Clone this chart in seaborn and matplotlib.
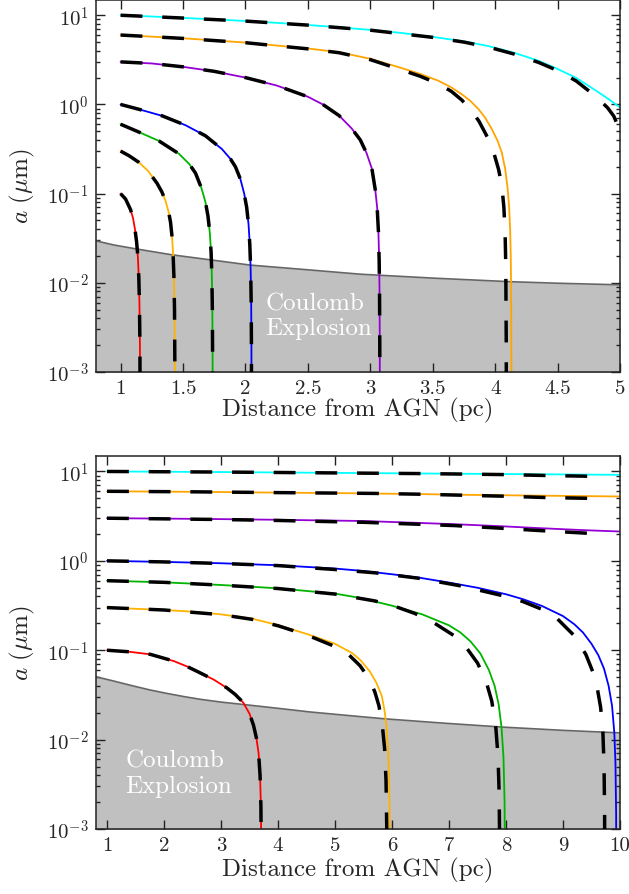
import matplotlib
matplotlib.use("Agg")
import matplotlib.pyplot as plt
import seaborn as sns
from matplotlib.ticker import FixedLocator, FixedFormatter, LogLocator, NullFormatter

# ---------------- data ----------------
# Top panel: solid coloured curves (grain size a in micron vs distance in pc)
top_red_x = [1.0, 1.04, 1.08, 1.1, 1.115, 1.128, 1.138, 1.146, 1.151, 1.155, 1.157]
top_red_a = [0.1, 0.087, 0.066, 0.053, 0.04, 0.029, 0.02, 0.0115, 0.006, 0.002, 0.0001]
top_or1_x = [1.0, 1.07, 1.147, 1.22, 1.293, 1.33, 1.36, 1.385, 1.40, 1.412, 1.42, 1.427, 1.432, 1.435, 1.436]
top_or1_a = [0.3, 0.265, 0.224, 0.18, 0.13, 0.105, 0.083, 0.062, 0.048, 0.033, 0.022, 0.012, 0.005, 0.001, 0.0001]
top_grn_x = [1.0, 1.147, 1.307, 1.467, 1.55, 1.6, 1.648, 1.68, 1.70, 1.715, 1.725, 1.731, 1.735, 1.737, 1.738]
top_grn_a = [0.6, 0.49, 0.39, 0.28, 0.215, 0.17, 0.115, 0.08, 0.056, 0.036, 0.022, 0.012, 0.005, 0.0015, 0.0001]
top_blu_x = [1.0, 1.15, 1.333, 1.52, 1.68, 1.813, 1.88, 1.92, 1.96, 1.99, 2.01, 2.025, 2.035, 2.042, 2.046, 2.048, 2.049]
top_blu_a = [1.0, 0.88, 0.745, 0.585, 0.445, 0.315, 0.245, 0.2, 0.145, 0.1, 0.07, 0.045, 0.027, 0.014, 0.006, 0.002, 0.0001]
top_pur_x = [1.0, 1.25, 1.5, 1.75, 2.0, 2.25, 2.5, 2.62, 2.75, 2.85, 2.92, 2.97, 3.013, 3.04, 3.055, 3.065, 3.071, 3.074, 3.076, 3.077]
top_pur_a = [3.0, 2.88, 2.64, 2.35, 2.0, 1.63, 1.22, 1.0, 0.75, 0.54, 0.40, 0.285, 0.19, 0.11, 0.07, 0.038, 0.018, 0.008, 0.002, 0.0001]
top_or6_x = [1.0, 1.5, 2.0, 2.5, 2.75, 3.0, 3.227, 3.4, 3.547, 3.65, 3.733, 3.8, 3.867, 3.92, 3.973, 4.02, 4.053,
             4.08, 4.1, 4.112, 4.12, 4.125, 4.128, 4.13, 4.131]
top_or6_a = [6.0, 5.52, 4.94, 4.24, 3.85, 3.25, 2.62, 2.2, 1.84, 1.55, 1.30, 1.1, 0.885, 0.71, 0.53, 0.39, 0.29,
             0.19, 0.115, 0.07, 0.04, 0.02, 0.008, 0.001, 0.0001]
top_cyn_x = [1.0, 1.25, 1.5, 1.75, 2.0, 2.25, 2.5, 2.75, 3.0, 3.25, 3.5, 3.75, 3.95, 4.15, 4.35, 4.5, 4.65, 4.8, 4.9, 5.0]
top_cyn_a = [10.0, 9.68, 9.33, 8.98, 8.63, 8.22, 7.78, 7.32, 6.85, 6.33, 5.72, 5.1, 4.5, 3.8, 3.08, 2.5, 1.98, 1.45, 1.17, 0.925]
# Top panel: dashed black curves (differ from solid only for the two largest grains)
top_or6d_x = [1.0, 1.5, 2.0, 2.5, 2.75, 3.0, 3.227, 3.4, 3.547, 3.65, 3.733, 3.813, 3.87, 3.92, 3.973, 4.027, 4.053,
              4.07, 4.08, 4.085, 4.089, 4.09]
top_or6d_a = [6.0, 5.5, 4.92, 4.2, 3.8, 3.18, 2.5, 2.07, 1.7, 1.4, 1.12, 0.84, 0.65, 0.48, 0.344, 0.188, 0.125,
              0.07, 0.035, 0.016, 0.002, 0.0001]
top_cynd_x = [1.0, 1.5, 2.0, 2.5, 3.0, 3.5, 3.75, 3.95, 4.15, 4.35, 4.5, 4.65, 4.8, 4.9, 4.95, 5.0]
top_cynd_a = [10.0, 9.3, 8.6, 7.75, 6.8, 5.65, 5.0, 4.38, 3.68, 2.95, 2.4, 1.83, 1.25, 0.92, 0.74, 0.506]
# Top panel: Coulomb explosion boundary
top_ce_x = [0.8, 0.95, 1.133, 1.413, 1.733, 2.04, 2.5, 2.92, 3.5, 4.12, 4.5, 5.0]
top_ce_a = [0.0296, 0.0265, 0.0239, 0.0206, 0.018, 0.0158, 0.014, 0.0125, 0.0113, 0.0103, 0.0099, 0.0095]

# Bottom panel: solid coloured curves
bot_red_x = [1.0, 1.4, 1.76, 2.17, 2.4, 2.63, 2.87, 3.10, 3.25, 3.39, 3.5, 3.57, 3.62, 3.66, 3.685, 3.70, 3.707, 3.709]
bot_red_a = [0.1, 0.096, 0.09, 0.0757, 0.066, 0.056, 0.047, 0.038, 0.032, 0.026, 0.0195, 0.0145, 0.0105, 0.007,
             0.004, 0.0018, 0.0005, 0.0001]
bot_or1_x = [1.0, 2.0, 2.5, 3.0, 3.54, 4.0, 4.52, 5.0, 5.3, 5.45, 5.61, 5.72, 5.82, 5.87, 5.9, 5.93, 5.95, 5.962, 5.965]
bot_or1_a = [0.3, 0.282, 0.27, 0.252, 0.226, 0.191, 0.151, 0.118, 0.093, 0.077, 0.058, 0.044, 0.031, 0.021,
             0.0145, 0.0078, 0.0035, 0.001, 0.0001]
bot_grn_x = [1.0, 2.0, 3.0, 4.0, 5.0, 5.44, 6.0, 6.53, 7.0, 7.2, 7.38, 7.55, 7.7, 7.8, 7.87, 7.92, 7.955, 7.975, 7.985]
bot_grn_a = [0.6, 0.575, 0.537, 0.493, 0.43, 0.385, 0.315, 0.252, 0.19, 0.158, 0.125, 0.092, 0.06, 0.04, 0.025,
             0.014, 0.0065, 0.002, 0.0001]
bot_blu_x = [1.0, 2.0, 3.0, 4.0, 5.0, 5.5, 6.0, 6.5, 7.0, 7.5, 8.0, 8.3, 8.63, 9.0, 9.2, 9.35, 9.5, 9.62, 9.72,
             9.8, 9.86, 9.9, 9.92, 9.932, 9.936]
bot_blu_a = [1.0, 0.973, 0.94, 0.893, 0.82, 0.77, 0.708, 0.645, 0.571, 0.5, 0.423, 0.372, 0.313, 0.241, 0.195,
             0.158, 0.118, 0.088, 0.062, 0.04, 0.024, 0.012, 0.0055, 0.0015, 0.0001]
bot_pur_x = [1.0, 2.0, 3.0, 4.0, 5.0, 5.5, 6.3, 7.1, 7.85, 8.6, 9.4, 10.0]
bot_pur_a = [3.0, 2.97, 2.93, 2.88, 2.82, 2.79, 2.68, 2.57, 2.45, 2.32, 2.2, 2.13]
bot_or6_x = [1.0, 2.5, 4.0, 5.35, 6.5, 7.37, 8.5, 10.0]
bot_or6_a = [6.0, 5.92, 5.8, 5.7, 5.58, 5.47, 5.37, 5.25]
bot_cyn_x = [1.0, 3.0, 5.4, 7.5, 10.0]
bot_cyn_a = [10.0, 9.85, 9.6, 9.4, 9.17]
# Bottom panel: dashed black curves
bot_redd_x = bot_red_x
bot_redd_a = bot_red_a
bot_or1d_x = [1.0, 2.0, 3.0, 3.54, 4.0, 4.52, 5.0, 5.25, 5.44, 5.6, 5.7, 5.77, 5.83, 5.87, 5.895, 5.908, 5.91]
bot_or1d_a = [0.3, 0.282, 0.25, 0.222, 0.188, 0.147, 0.11, 0.088, 0.067, 0.048, 0.034, 0.024, 0.0145, 0.008,
              0.0035, 0.001, 0.0001]
bot_grnd_x = [1.0, 2.0, 3.0, 4.0, 5.0, 5.7, 6.05, 6.4, 6.75, 7.1, 7.3, 7.5, 7.65, 7.75, 7.82, 7.86, 7.88, 7.89, 7.892]
bot_grnd_a = [0.6, 0.575, 0.535, 0.49, 0.425, 0.356, 0.31, 0.258, 0.2, 0.144, 0.108, 0.072, 0.045, 0.027, 0.014,
              0.0065, 0.0025, 0.0005, 0.0001]
bot_blud_x = [1.0, 2.0, 3.0, 4.0, 5.0, 5.7, 6.46, 7.21, 7.96, 8.3, 8.63, 8.9, 9.2, 9.4, 9.52, 9.6, 9.66, 9.7,
              9.72, 9.73, 9.733]
bot_blud_a = [1.0, 0.973, 0.935, 0.885, 0.8, 0.735, 0.64, 0.524, 0.405, 0.35, 0.287, 0.225, 0.145, 0.09, 0.058,
              0.038, 0.023, 0.012, 0.005, 0.0015, 0.0001]
bot_purd_x = [1.0, 2.0, 3.0, 4.0, 5.0, 5.5, 6.3, 7.1, 7.85, 8.6, 9.71]
bot_purd_a = [3.0, 2.95, 2.9, 2.83, 2.74, 2.7, 2.59, 2.48, 2.33, 2.18, 1.99]
bot_or6d_x = [1.0, 2.5, 4.0, 5.0, 5.7, 6.45, 7.2, 7.95, 8.7, 9.71]
bot_or6d_a = [6.0, 5.92, 5.8, 5.73, 5.68, 5.57, 5.43, 5.29, 5.11, 4.97]
bot_cynd_x = [1.0, 3.0, 5.0, 5.73, 6.49, 7.23, 8.0, 8.74, 9.71]
bot_cynd_a = [10.0, 9.85, 9.63, 9.55, 9.47, 9.35, 9.22, 9.0, 8.78]
# Bottom panel: Coulomb explosion boundary
bot_ce_x = [0.8, 1.1, 1.47, 1.75, 2.05, 2.35, 2.63, 3.0, 3.45, 4.0, 4.56, 5.2, 5.87, 6.9, 7.95, 9.0, 10.0]
bot_ce_a = [0.0506, 0.0455, 0.0397, 0.036, 0.0329, 0.0303, 0.0283, 0.0263, 0.0245, 0.0224, 0.0204, 0.0187,
            0.0171, 0.0153, 0.0138, 0.0127, 0.0119]

top_xticks = [1, 1.5, 2, 2.5, 3, 3.5, 4, 4.5, 5]
top_xticklabels = ["1", "1.5", "2", "2.5", "3", "3.5", "4", "4.5", "5"]
bot_xticks = [1, 2, 3, 4, 5, 6, 7, 8, 9, 10]
bot_xticklabels = ["1", "2", "3", "4", "5", "6", "7", "8", "9", "10"]
yticks = [1e-3, 1e-2, 1e-1, 1e0, 1e1]
yticklabels = [r"$10^{-3}$", r"$10^{-2}$", r"$10^{-1}$", r"$10^{0}$", r"$10^{1}$"]

xlabel_text = "Distance from AGN (pc)"
ylabel_text = r"$a\ (\mu\mathrm{m})$"

colors = {"red": "#ff0000", "or1": "#ffb300", "grn": "#00b400", "blu": "#0000ff",
          "pur": "#9400d3", "or6": "#ffa500", "cyn": "#00ffff"}

# ---------------- style ----------------
sns.set_style("ticks")
plt.rcParams["font.family"] = "serif"
plt.rcParams["font.serif"] = ["cmr10"]
plt.rcParams["mathtext.fontset"] = "cm"
plt.rcParams["axes.unicode_minus"] = False
plt.rcParams["axes.formatter.use_mathtext"] = True

fig = plt.figure(figsize=(6.29, 8.95), dpi=100)
ax_top = fig.add_axes([0.152, 0.5832, 0.8337, 0.4162])
ax_bot = fig.add_axes([0.152, 0.0726, 0.8337, 0.4171])

DASH = (0, (6.3, 5.7))


def draw_panel(ax, solids, dashed, ce_x, ce_a, xlim, xticks, xticklabels, text_xy, xlabelpad):
    ax.fill_between(ce_x, 1e-5, ce_a, color="#c0c0c0", lw=0, zorder=0.5)
    sns.lineplot(x=ce_x, y=ce_a, ax=ax, color="#666666", lw=1.2, estimator=None,
                 sort=False, zorder=1)
    ax.text(text_xy[0], text_xy[1], "Coulomb", color="white", fontsize=18,
            ha="left", va="baseline", zorder=1.5)
    ax.text(text_xy[0], text_xy[2], "Explosion", color="white", fontsize=18,
            ha="left", va="baseline", zorder=1.5)
    for xs, ys, c in solids:
        sns.lineplot(x=xs, y=ys, ax=ax, color=c, lw=1.3, estimator=None, sort=False, zorder=2)
    for xs, ys in dashed:
        sns.lineplot(x=xs, y=ys, ax=ax, color="black", lw=2.5, linestyle=DASH,
                     dash_capstyle="butt", estimator=None, sort=False, zorder=3)
    ax.set_yscale("log")
    ax.set_ylim(1e-3, 15)
    ax.set_xlim(*xlim)
    ax.xaxis.set_major_locator(FixedLocator(xticks))
    ax.xaxis.set_major_formatter(FixedFormatter(xticklabels))
    ax.yaxis.set_major_locator(FixedLocator(yticks))
    ax.yaxis.set_major_formatter(FixedFormatter(yticklabels))
    ax.yaxis.set_minor_locator(LogLocator(base=10, subs=range(2, 10), numticks=20))
    ax.yaxis.set_minor_formatter(NullFormatter())
    ax.tick_params(which="both", direction="in", top=True, right=True, width=1.0,
                   color="#222222", labelsize=15, pad=5)
    ax.tick_params(which="major", length=6.5)
    ax.tick_params(which="minor", length=3.2)
    ax.tick_params(axis="x", which="minor", top=False, bottom=False)
    for s in ax.spines.values():
        s.set_linewidth(1.1)
        s.set_color("#222222")
    ax.set_xlabel(xlabel_text, fontsize=18, labelpad=xlabelpad)
    ax.set_ylabel(ylabel_text, fontsize=18, labelpad=7)


draw_panel(ax_top,
           [(top_red_x, top_red_a, colors["red"]), (top_or1_x, top_or1_a, colors["or1"]),
            (top_grn_x, top_grn_a, colors["grn"]), (top_blu_x, top_blu_a, colors["blu"]),
            (top_pur_x, top_pur_a, colors["pur"]), (top_or6_x, top_or6_a, colors["or6"]),
            (top_cyn_x, top_cyn_a, colors["cyn"])],
           [(top_red_x, top_red_a), (top_or1_x, top_or1_a), (top_grn_x, top_grn_a),
            (top_blu_x, top_blu_a), (top_pur_x, top_pur_a), (top_or6d_x, top_or6d_a),
            (top_cynd_x, top_cynd_a)],
           top_ce_x, top_ce_a, (0.8, 5.0), top_xticks, top_xticklabels,
           (2.16, 0.00508, 0.00267), 0)

draw_panel(ax_bot,
           [(bot_red_x, bot_red_a, colors["red"]), (bot_or1_x, bot_or1_a, colors["or1"]),
            (bot_grn_x, bot_grn_a, colors["grn"]), (bot_blu_x, bot_blu_a, colors["blu"]),
            (bot_pur_x, bot_pur_a, colors["pur"]), (bot_or6_x, bot_or6_a, colors["or6"]),
            (bot_cyn_x, bot_cyn_a, colors["cyn"])],
           [(bot_redd_x, bot_redd_a), (bot_or1d_x, bot_or1d_a), (bot_grnd_x, bot_grnd_a),
            (bot_blud_x, bot_blud_a), (bot_purd_x, bot_purd_a), (bot_or6d_x, bot_or6d_a),
            (bot_cynd_x, bot_cynd_a)],
           bot_ce_x, bot_ce_a, (0.8, 10.0), bot_xticks, bot_xticklabels,
           (1.32, 0.00505, 0.00258), 2)

fig.savefig("out.png", dpi=100)
